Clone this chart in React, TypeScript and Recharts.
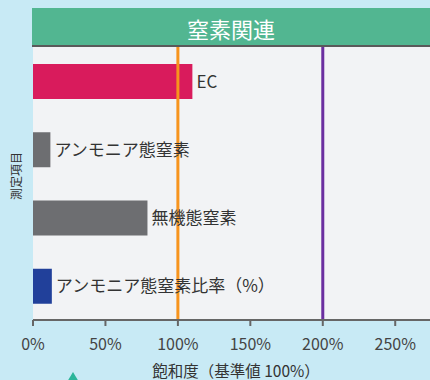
import { BarChart, Bar, XAxis, YAxis, Cell, LabelList, ReferenceLine, CartesianGrid } from "recharts";

const items = ["EC", "アンモニア態窒素", "無機態窒素", "アンモニア態窒素比率（%）"];
const saturation = [110, 12, 79, 13];
const barColors = ["#d91b5c", "#6d6e71", "#6d6e71", "#21409a"];
const xTicks = [0, 50, 100, 150, 200, 250];

const font = '"Noto Sans CJK JP", "Noto Sans", sans-serif';

const data = items.map((name, i) => ({ name, value: saturation[i] }));

export default function App() {
  return (
    <div
      style={{
        position: "fixed",
        left: 0,
        top: 0,
        width: 430,
        height: 380,
        background: "#c8eaf5",
        fontFamily: font,
        overflow: "hidden",
      }}
    >
      <div
        style={{
          position: "absolute",
          left: 32,
          top: 8,
          width: 398,
          height: 37,
          background: "#52b691",
          borderBottom: "2px solid #5a5a5a",
          color: "#fff",
          fontSize: 22,
          lineHeight: "40px",
          textAlign: "center",
          fontWeight: 400,
        }}
      >
        窒素関連
      </div>
      <div style={{ position: "absolute", left: 0, top: 0 }}>
        <BarChart
          width={430}
          height={380}
          data={data}
          layout="vertical"
          margin={{ top: 47, right: 0, bottom: 0, left: 33 }}
          barCategoryGap={0}
        >
          <CartesianGrid fill="#f2f3f5" horizontal={false} vertical={false} />
          <XAxis
            type="number"
            domain={[0, 274]}
            ticks={xTicks}
            tickFormatter={(v) => `${v}%`}
            axisLine={{ stroke: "#666", strokeWidth: 2 }}
            tickLine={{ stroke: "#666", strokeWidth: 2 }}
            tickSize={6}
            tickMargin={13}
            tick={{ fontSize: 16, fill: "#444", fontFamily: font }}
            allowDataOverflow
            height={60}
          />
          <YAxis
            type="category"
            dataKey="name"
            width={0}
            tick={false}
            tickLine={false}
            axisLine={{ stroke: "#666", strokeWidth: 2 }}
          />
          <Bar dataKey="value" barSize={35} isAnimationActive={false}>
            {data.map((d, i) => (
              <Cell key={d.name} fill={barColors[i]} />
            ))}
            <LabelList
              dataKey="name"
              position="right"
              offset={4}
              style={{ fontSize: 17, fill: "#333", fontFamily: font }}
            />
          </Bar>
          <ReferenceLine x={100} stroke="#f7941d" strokeWidth={3} />
          <ReferenceLine x={200} stroke="#6b2fa0" strokeWidth={3} />
        </BarChart>
      </div>
      <div
        style={{
          position: "absolute",
          left: 0,
          width: 472,
          top: 360,
          textAlign: "center",
          fontSize: 15.5,
          color: "#333",
          lineHeight: "20px",
        }}
      >
        飽和度（基準値 100%）
      </div>
      <div
        style={{
          position: "absolute",
          left: 15,
          top: 176,
          transform: "translate(-50%, -50%) rotate(-90deg)",
          fontSize: 12,
          color: "#333",
          whiteSpace: "nowrap",
        }}
      >
        測定項目
      </div>
      <div
        style={{
          position: "absolute",
          left: 67,
          top: 372,
          width: 0,
          height: 0,
          borderLeft: "6px solid transparent",
          borderRight: "6px solid transparent",
          borderBottom: "10px solid #2bb59a",
        }}
      />
    </div>
  );
}
